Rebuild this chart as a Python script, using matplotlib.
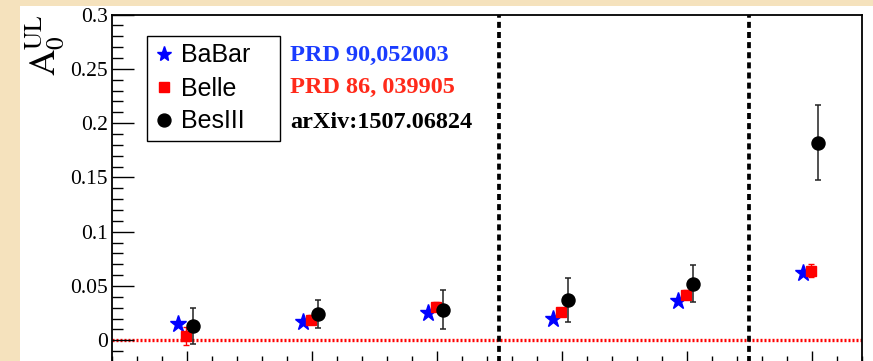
import matplotlib
matplotlib.use("Agg")
import matplotlib.pyplot as plt
from matplotlib.patches import Rectangle
from matplotlib.lines import Line2D
from matplotlib.ticker import MultipleLocator, NullFormatter

# Bins (one per kinematic region) and the measured A0 upper limits
bins = [1, 2, 3, 4, 5, 6]
babar = [0.015, 0.017, 0.025, 0.020, 0.036, 0.062]
belle = [0.004, 0.019, 0.031, 0.026, 0.042, 0.064]
belle_err = [0.008, 0.004, 0.004, 0.004, 0.004, 0.006]
besiii = [0.0128, 0.024, 0.028, 0.037, 0.052, 0.182]
besiii_err = [0.0166, 0.013, 0.018, 0.020, 0.017, 0.0345]
separators = [3.5, 5.5]
series_labels = ["BaBar", "Belle", "BesIII"]
references = ["PRD 90,052003", "PRD 86, 039905", "arXiv:1507.06824"]
yticks = [0, 0.05, 0.1, 0.15, 0.2, 0.25, 0.3]
ytick_labels = ["0", "0.05", "0.1", "0.15", "0.2", "0.25", "0.3"]

plt.rcParams["mathtext.fontset"] = "stix"

W, H = 873, 361
BG = "#f5e2bd"
BLUE = "#0000ff"
RED = "#ff0000"


def fx(px):
    return px / W


def fy(py):
    return 1 - py / H


fig = plt.figure(figsize=(W / 100, H / 100), dpi=100, facecolor=BG)
# white canvas pad
fig.patches.append(Rectangle((fx(20), 0), 1, fy(6), transform=fig.transFigure,
                             facecolor="white", edgecolor="none", zorder=-1))

ax = fig.add_axes([fx(112), -1 / H, 750 / W, 347.5 / H])
ax.set_xlim(0.4, 6.4)
ax.set_ylim(-0.02, 0.3)

# reference line at zero and bin-group separators
ax.axhline(0, color=RED, lw=2.4, ls=(0, (0.6, 0.6)), zorder=1)
for s in separators:
    ax.axvline(s, color="black", lw=2.7, ls=(0, (1.6, 1.1)), zorder=1)

off_babar, off_belle, off_besiii = -0.07, -0.01, 0.05
xb = [b + off_babar for b in bins]
xe = [b + off_belle for b in bins]
xs = [b + off_besiii for b in bins]

ax.plot(xb, babar, ls="none", marker="*", ms=12.5, color=BLUE, mec=BLUE, zorder=3)
ax.errorbar(xe, belle, yerr=belle_err, fmt="s", ms=7.7, color=RED, ecolor=RED,
            elinewidth=1.0, capsize=2.0, capthick=1.0, zorder=4)
ax.errorbar(xs, besiii, yerr=besiii_err, fmt="o", ms=9.4, color="black",
            ecolor="#222222", elinewidth=1.1, capsize=2.0, capthick=1.1, zorder=5)

# axes frame and ticks
for sp in ax.spines.values():
    sp.set_linewidth(1.3)
ax.yaxis.set_major_locator(MultipleLocator(0.05))
ax.yaxis.set_minor_locator(MultipleLocator(0.01))
ax.set_yticks(yticks)
ax.set_yticklabels(ytick_labels, family="Liberation Serif", fontsize=15.5)
ax.xaxis.set_major_locator(MultipleLocator(1))
ax.xaxis.set_minor_locator(MultipleLocator(0.2))
ax.xaxis.set_major_formatter(NullFormatter())
ax.tick_params(axis="y", which="major", direction="in", length=16, width=1.0, pad=3)
ax.tick_params(axis="y", which="minor", direction="in", length=8, width=1.0)
ax.tick_params(axis="x", which="major", direction="in", length=8, width=1.0)
ax.tick_params(axis="x", which="minor", direction="in", length=4, width=1.0)

# y-axis title
fig.text(fx(45), fy(14), r"$\mathrm{A}_{0}^{\mathrm{UL}}$", rotation=90,
         ha="center", va="top", fontsize=26)

# legend
handles = [
    Line2D([], [], ls="none", marker="*", ms=11, color=BLUE),
    Line2D([], [], ls="none", marker="s", ms=7, color=RED),
    Line2D([], [], ls="none", marker="o", ms=9.3, color="black"),
]
leg = ax.legend(handles, series_labels, loc="upper left",
                bbox_to_anchor=(fx(147), fy(138), (280 - 147) / W, 102 / H),
                bbox_transform=fig.transFigure, mode="expand",
                prop={"family": "Liberation Sans", "size": 18},
                borderpad=0.3, labelspacing=0.36, handlelength=0.75,
                handletextpad=0.3, borderaxespad=0, fancybox=False,
                framealpha=1, edgecolor="black")
leg.get_frame().set_linewidth(1.0)

# publication references
ref_colors = ["#1a3cff", "#ff2a1a", "black"]
ref_baselines = [60.7, 93.3, 128]
for txt, c, yb in zip(references, ref_colors, ref_baselines):
    fig.text(fx(290), fy(yb), txt, family="Liberation Serif", weight="bold",
             fontsize=17.5, color=c, ha="left", va="baseline")

fig.savefig("out.png", dpi=100, facecolor=BG)
